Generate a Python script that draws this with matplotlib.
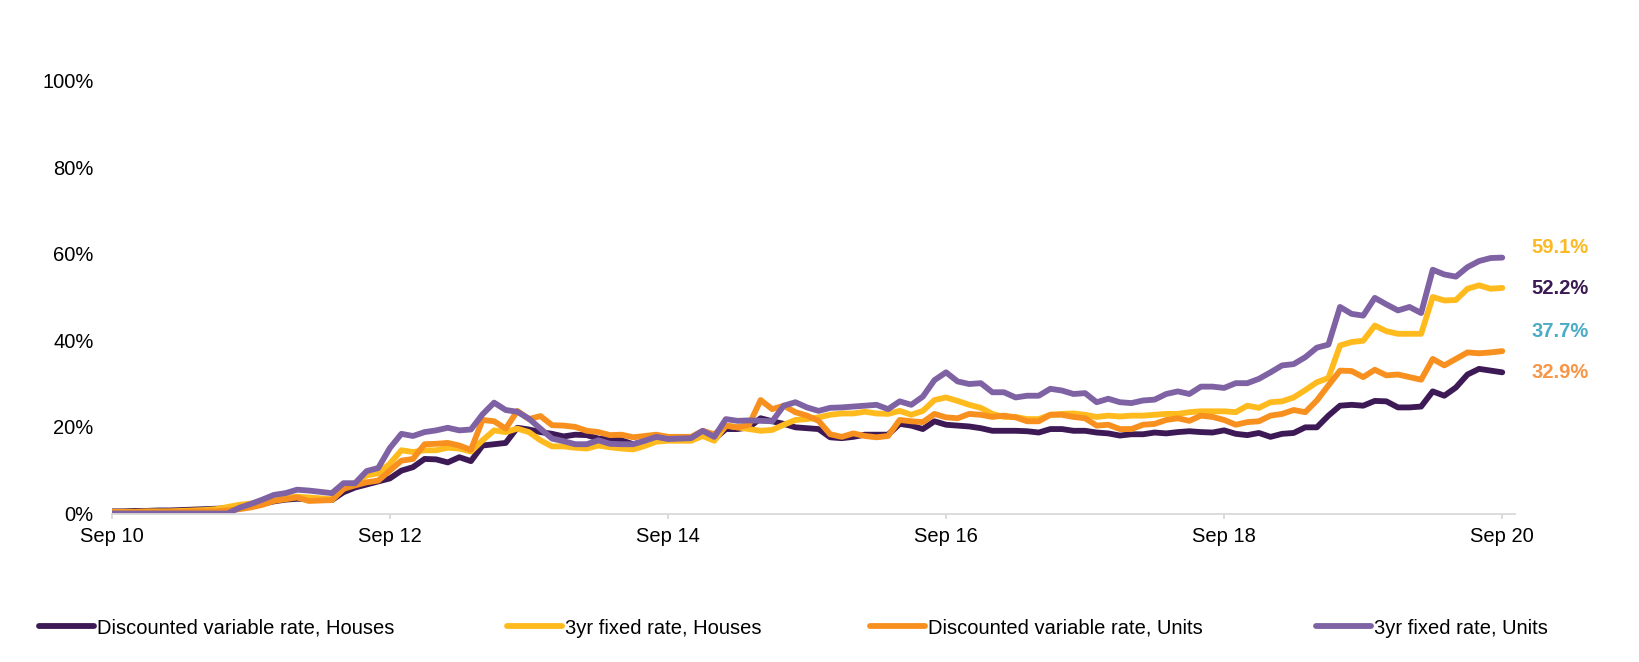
import matplotlib
matplotlib.use("Agg")
from matplotlib import pyplot as plt
import numpy as np

# monthly data, Sep 2010 .. Sep 2020
tick_labels = ["Sep 10", "Sep 12", "Sep 14", "Sep 16", "Sep 18", "Sep 20"]

series_names = [
    "Discounted variable rate, Houses",
    "3yr fixed rate, Houses",
    "Discounted variable rate, Units",
    "3yr fixed rate, Units",
]

disc_var_houses = [
    0.5, 0.5, 0.6, 0.6, 0.7, 0.7, 0.8, 0.9, 1.0, 1.1,
    1.2, 1.4, 1.7, 2.2, 2.8, 3.2, 3.4, 3.3, 3.2, 3.1,
    4.9, 6.0, 6.7, 7.4, 8.1, 9.9, 10.7, 12.6, 12.5, 11.8,
    13.0, 12.1, 15.7, 16.0, 16.3, 19.8, 19.4, 18.8, 18.4, 17.8,
    18.2, 18.1, 17.3, 17.1, 16.9, 16.0, 16.6, 17.2, 17.2, 17.2,
    17.2, 18.3, 17.2, 19.5, 19.5, 19.9, 22.0, 21.3, 20.7, 19.9,
    19.7, 19.5, 17.6, 17.4, 17.7, 18.2, 18.2, 18.2, 20.7, 20.3,
    19.5, 21.3, 20.5, 20.3, 20.1, 19.7, 19.1, 19.1, 19.1, 19.0,
    18.7, 19.5, 19.5, 19.1, 19.1, 18.7, 18.5, 18.0, 18.3, 18.3,
    18.7, 18.5, 18.8, 19.0, 18.8, 18.7, 19.2, 18.4, 18.1, 18.6,
    17.7, 18.4, 18.6, 19.9, 19.9, 22.6, 24.9, 25.1, 24.9, 26.0,
    25.9, 24.5, 24.5, 24.7, 28.2, 27.2, 29.1, 32.1, 33.4, 33.0,
    32.6,
]

fixed_houses = [
    0.4, 0.4, 0.4, 0.5, 0.5, 0.5, 0.6, 0.7, 0.8, 1.0,
    1.5, 2.0, 2.3, 2.8, 3.3, 3.6, 3.9, 3.7, 3.5, 3.3,
    5.7, 7.0, 8.8, 9.3, 11.5, 14.6, 14.2, 14.6, 14.6, 15.2,
    15.0, 14.3, 16.9, 19.2, 18.8, 19.6, 18.8, 16.9, 15.5, 15.5,
    15.2, 15.0, 15.7, 15.3, 15.0, 14.8, 15.6, 16.6, 16.8, 16.8,
    16.8, 17.9, 16.8, 20.3, 19.9, 19.5, 19.1, 19.3, 20.5, 21.6,
    21.8, 22.2, 22.8, 23.1, 23.1, 23.5, 23.1, 23.0, 23.7, 22.8,
    23.7, 26.2, 26.8, 26.0, 25.1, 24.4, 23.0, 22.3, 22.3, 21.8,
    21.8, 22.8, 23.0, 23.1, 22.8, 22.3, 22.6, 22.4, 22.6, 22.6,
    22.8, 23.0, 23.0, 23.4, 23.6, 23.6, 23.6, 23.4, 24.9, 24.4,
    25.7, 25.9, 26.8, 28.5, 30.3, 31.3, 38.8, 39.6, 39.9, 43.4,
    42.1, 41.5, 41.5, 41.5, 50.0, 49.2, 49.3, 51.9, 52.7, 51.9,
    52.1,
]

disc_var_units = [
    0.3, 0.3, 0.3, 0.3, 0.3, 0.4, 0.4, 0.5, 0.5, 0.5,
    0.7, 1.0, 1.4, 2.0, 2.9, 3.3, 3.7, 2.9, 3.0, 3.1,
    5.7, 6.5, 7.2, 7.6, 9.9, 12.2, 12.6, 16.0, 16.1, 16.3,
    15.7, 14.7, 21.6, 21.3, 19.6, 23.7, 21.8, 22.5, 20.4, 20.3,
    20.0, 19.1, 18.8, 18.1, 18.2, 17.6, 17.9, 18.2, 17.7, 17.7,
    17.7, 19.1, 18.3, 20.3, 19.9, 20.5, 26.2, 24.1, 24.9, 23.4,
    22.6, 21.4, 18.3, 17.7, 18.5, 17.9, 17.6, 17.9, 21.6, 21.3,
    21.1, 23.0, 22.2, 22.0, 23.0, 22.8, 22.3, 22.6, 22.2, 21.3,
    21.3, 22.8, 22.8, 22.3, 22.0, 20.3, 20.5, 19.5, 19.5, 20.5,
    20.7, 21.6, 22.0, 21.4, 22.6, 22.3, 21.6, 20.5, 21.1, 21.3,
    22.6, 23.0, 23.9, 23.4, 26.1, 29.6, 33.0, 32.9, 31.5, 33.2,
    31.9, 32.1, 31.5, 30.9, 35.7, 34.2, 35.7, 37.2, 37.0, 37.2,
    37.5,
]

fixed_units = [
    0.0, 0.0, 0.0, 0.0, 0.0, 0.0, 0.0, 0.0, 0.0, 0.0,
    0.0, 1.3, 2.2, 3.2, 4.3, 4.7, 5.5, 5.3, 5.0, 4.7,
    7.0, 7.0, 9.8, 10.5, 15.1, 18.4, 17.9, 18.8, 19.2, 19.8,
    19.2, 19.4, 22.9, 25.6, 23.9, 23.5, 21.9, 19.6, 17.3, 16.7,
    16.0, 16.0, 16.9, 16.1, 16.0, 16.0, 16.8, 17.7, 17.2, 17.3,
    17.4, 19.1, 17.7, 21.8, 21.4, 21.5, 21.4, 21.3, 24.9, 25.7,
    24.5, 23.7, 24.4, 24.5, 24.7, 24.9, 25.1, 24.1, 25.9, 25.1,
    27.0, 30.8, 32.6, 30.5, 29.9, 30.1, 28.0, 28.0, 26.8, 27.2,
    27.2, 28.8, 28.4, 27.6, 27.8, 25.7, 26.5, 25.7, 25.5, 26.1,
    26.3, 27.6, 28.2, 27.6, 29.3, 29.3, 29.0, 30.1, 30.1, 31.1,
    32.6, 34.2, 34.5, 36.1, 38.3, 39.0, 47.7, 46.1, 45.7, 49.8,
    48.3, 46.9, 47.7, 46.3, 56.3, 55.2, 54.7, 56.9, 58.3, 59.0,
    59.1,
]

# end labels as printed in the source chart, one per series (same order)
end_labels = ["32.9%", "52.2%", "37.7%", "59.1%"]


def main():
    plt.rcParams["font.family"] = ["Liberation Sans", "DejaVu Sans"]

    line_colors = ["#3D1A56", "#FFBA1E", "#F7901E", "#7E62A3"]
    label_colors = ["#F79646", "#3C1A54", "#4BACC6", "#FDB924"]
    label_nudge = [0.0, -0.1, 4.5, 2.4]
    legend_x = [39, 507, 870, 1316]
    grey = "#D9D9D9"
    fs = 14.5
    lw = 4.2

    all_series = [disc_var_houses, fixed_houses, disc_var_units, fixed_units]
    months = np.arange(len(disc_var_houses))

    fig = plt.figure(figsize=(16.4, 6.62), dpi=100)
    ax = fig.add_axes([111.7 / 1640, 1 - 513.5 / 662, (1515 - 111.7) / 1640, (513.5 - 80.5) / 662])

    lines = []
    for values, color in zip(all_series, line_colors):
        (ln,) = ax.plot(months, values, color=color, linewidth=lw,
                        solid_capstyle="round", solid_joinstyle="round")
        lines.append(ln)

    # end of line labels
    for values, text, color, nudge in zip(all_series, end_labels, label_colors, label_nudge):
        ax.annotate(text, xy=(months[-1], values[-1] + nudge), xytext=(21, 0),
                    textcoords="offset points", va="center", ha="left",
                    color=color, fontsize=fs, fontweight="bold", annotation_clip=False)

    # axes
    ax.set_xlim(0, 121.1)
    ax.set_ylim(0, 100)
    ax.set_xticks(np.arange(0, 121, 24))
    ax.set_xticklabels(tick_labels)
    ax.set_yticks(np.arange(0, 101, 20))
    ax.set_yticklabels([f"{v}%" for v in range(0, 101, 20)])
    for side in ["top", "right", "left"]:
        ax.spines[side].set_visible(False)
    ax.spines["bottom"].set_color(grey)
    ax.spines["bottom"].set_linewidth(1.3)
    ax.tick_params(axis="x", direction="out", length=3.8, width=1.3, color=grey,
                   pad=6, labelsize=fs, labelcolor="black")
    ax.tick_params(axis="y", length=0, pad=13, labelsize=fs, labelcolor="black")

    # legend, one entry per box so the spacing follows the original
    for ln, name, x0 in zip(lines, series_names, legend_x):
        fig.legend([ln], [name], loc="center left", bbox_to_anchor=(x0 / 1640, 1 - 628 / 662),
                   frameon=False, fontsize=fs, handlelength=2.73, handletextpad=0.15,
                   borderpad=0, borderaxespad=0)

    fig.savefig("out.png", dpi=100)


if __name__ == "__main__":
    main()
